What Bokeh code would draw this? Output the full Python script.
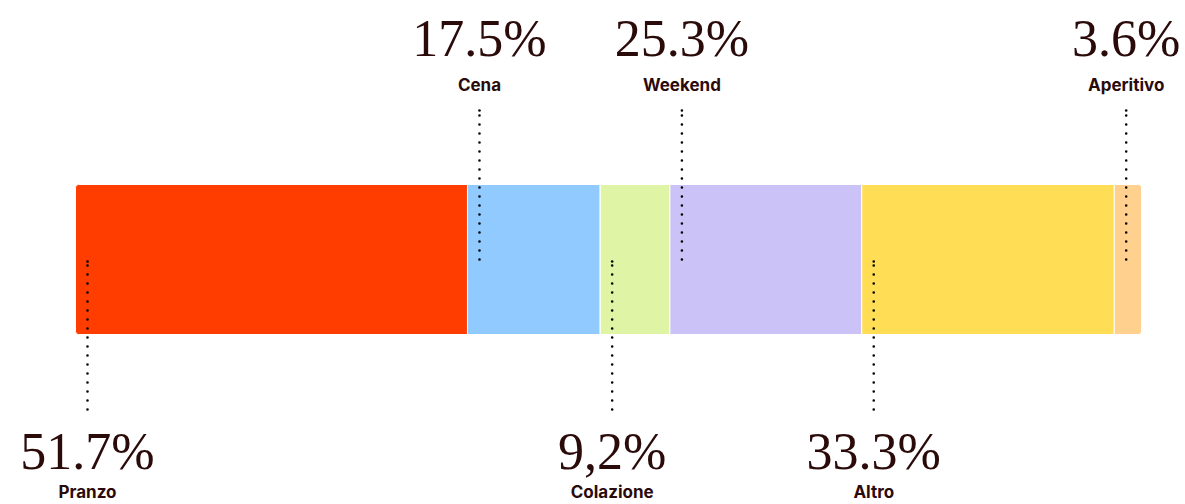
from bokeh.plotting import figure
from bokeh.models import Range1d, ColumnDataSource
from bokeh.embed import file_html
from bokeh.resources import INLINE
from bokeh.core.properties import value

# ---- data ----
categories = ["Pranzo", "Cena", "Colazione", "Weekend", "Altro", "Aperitivo"]
values = [51.7, 17.5, 9.2, 25.3, 33.3, 3.6]
value_labels = ["51.7%", "17.5%", "9,2%", "25.3%", "33.3%", "3.6%"]
sides = ["below", "above", "below", "above", "below", "above"]
colors = ["#FF3D00", "#90CAFF", "#DFF4A4", "#CBC3F7", "#FFDD55", "#FFD08E"]

total = sum(values)
starts = []
acc = 0.0
for v in values:
    starts.append(acc)
    acc += v
ends = [s + v for s, v in zip(starts, values)]

TXT = "#2b0a0a"
W, H = 1185, 504
px = total / 1066.0  # data units per pixel

p = figure(width=W, height=H,
           x_range=Range1d(-75 * px, total + (W - 1141) * px),
           y_range=Range1d(H - 1, -1),
           output_backend="svg", toolbar_location=None, min_border=0)
p.axis.visible = False
p.grid.visible = False
p.outline_line_color = None
p.background_fill_color = "white"

BAR_Y = 258
BAR_H = 150
n = len(values)
for i in range(n):
    if i == 0:
        br = (3, 0, 0, 3)
    elif i == n - 1:
        br = (0, 3, 3, 0)
    else:
        br = 0
    p.hbar(y=[BAR_Y], left=[starts[i]], right=[ends[i]], height=BAR_H,
           fill_color=colors[i], line_color="white", line_width=1,
           border_radius=br)

lead_x = [s + 12 * px for s in starts]
# dash pattern runs from y0 toward y1; extra dot at y1 (end)
y0 = [258 if sd == "above" else 408 for sd in sides]
y1 = [109 if sd == "above" else 260 for sd in sides]
src = ColumnDataSource(dict(x=lead_x, y0=y0, y1=y1,
                            vy=[37 if sd == "above" else 450 for sd in sides],
                            cy=[83 if sd == "above" else 490 for sd in sides],
                            vl=value_labels, cat=categories))
p.segment(x0="x", y0="y0", x1="x", y1="y1", source=src, line_color="black",
          line_width=2.6, line_dash="0 9", line_cap="round")
p.scatter(x="x", y="y1", source=src, size=2.6, marker="circle",
          fill_color="black", line_color=None)

p.text(x="x", y="vy", text="vl", source=src, text_align="center",
       text_baseline="middle", text_font=value("Liberation Serif"),
       text_font_size="52px", text_color=TXT)
p.text(x="x", y="cy", text="cat", source=src, text_align="center",
       text_baseline="middle", text_font=value("Inter"),
       text_font_size="17px", text_font_style="bold", text_color=TXT)

open("out.html", "w").write(file_html(p, INLINE))
